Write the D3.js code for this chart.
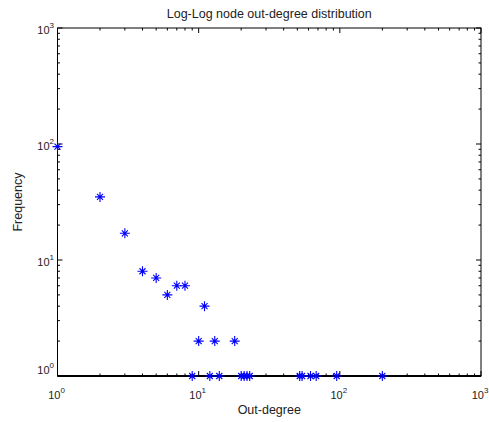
<!DOCTYPE html>
<html>
<head>
<meta charset="utf-8">
<script src="https://cdn.jsdelivr.net/npm/d3@7"></script>
<style>
  html, body { margin: 0; padding: 0; background: #fff; }
  svg { display: block; font-family: "Liberation Sans", Arial, sans-serif; }
</style>
</head>
<body>
<svg id="chart" width="489" height="422"></svg>
<script>
// out-degree values and how many nodes have each one
const outDegree = [1, 2, 3, 4, 5, 6, 7, 8, 9, 10, 11, 12, 13, 14, 18, 20, 21, 22, 23, 52, 54, 62, 68, 95, 200];
const frequency = [95, 35, 17, 8, 7, 5, 6, 6, 1, 2, 4, 1, 2, 1, 2, 1, 1, 1, 1, 1, 1, 1, 1, 1, 1];
const decadeTicks = [1, 10, 100, 1000];
const exponents = ["0", "1", "2", "3"];

const title = "Log-Log node out-degree distribution";
const xTitle = "Out-degree";
const yTitle = "Frequency";

(function () {
  const svg = d3.select("#chart");
  const left = 57.5, right = 481, plotTop = 28, plotBottom = 376;

  const x = d3.scaleLog().domain([1, 1000]).range([left, right]);
  const y = d3.scaleLog().domain([1, 1000]).range([plotBottom, plotTop]);

  // minor ticks 2..9 in each decade
  const minor = [];
  decadeTicks.slice(0, -1).forEach((d) => {
    for (let k = 2; k <= 9; k++) minor.push(d * k);
  });

  const tickG = svg.append("g").attr("stroke", "#000").attr("stroke-width", 1);
  function ticks(values, len) {
    values.forEach((v) => {
      const px = x(v), py = y(v);
      tickG.append("line").attr("x1", px).attr("x2", px).attr("y1", plotBottom).attr("y2", plotBottom - len);
      tickG.append("line").attr("x1", px).attr("x2", px).attr("y1", plotTop).attr("y2", plotTop + len);
      tickG.append("line").attr("y1", py).attr("y2", py).attr("x1", left).attr("x2", left + len);
      tickG.append("line").attr("y1", py).attr("y2", py).attr("x1", right).attr("x2", right - len);
    });
  }
  ticks(minor, 2.5);
  ticks(decadeTicks, 5);

  // box
  svg.append("rect")
    .attr("x", left).attr("y", plotTop)
    .attr("width", right - left).attr("height", plotBottom - plotTop)
    .attr("fill", "none").attr("stroke", "#000").attr("stroke-width", 1);
  svg.append("line")
    .attr("x1", left).attr("x2", right).attr("y1", plotBottom).attr("y2", plotBottom)
    .attr("stroke", "#000").attr("stroke-width", 2);

  // tick labels, 10 with a raised exponent
  const xLab = svg.append("g").attr("font-size", 11).attr("fill", "#222");
  decadeTicks.forEach((v, i) => {
    const t = xLab.append("text").attr("x", x(v) - 1).attr("y", 399).attr("text-anchor", "middle");
    t.append("tspan").text("10");
    t.append("tspan").attr("dy", -6).attr("font-size", 8).text(exponents[i]);
  });
  const yLab = svg.append("g").attr("font-size", 11).attr("fill", "#222");
  decadeTicks.forEach((v, i) => {
    const shift = i === 0 ? -8 : 0;
    const t = yLab.append("text").attr("x", 54).attr("y", y(v) + 6 + shift).attr("text-anchor", "end");
    t.append("tspan").text("10");
    t.append("tspan").attr("dy", -6).attr("font-size", 8).text(exponents[i]);
  });

  // asterisk markers
  const star = "M-5,0H5M0,-5V5M-3,-3L3,3M-3,3L3,-3";
  svg.append("g")
    .selectAll("path")
    .data(outDegree)
    .join("path")
    .attr("transform", (d, i) => `translate(${x(d)},${y(frequency[i])})`)
    .attr("d", star)
    .attr("fill", "none")
    .attr("stroke", "#0000ff")
    .attr("stroke-width", 1.1);

  // titles
  svg.append("text").attr("x", (left + right) / 2).attr("y", 18)
    .attr("text-anchor", "middle").attr("font-size", 12.5).attr("fill", "#222").text(title);
  svg.append("text").attr("x", (left + right) / 2).attr("y", 414)
    .attr("text-anchor", "middle").attr("font-size", 12.5).attr("fill", "#222").text(xTitle);
  svg.append("text")
    .attr("transform", `translate(22,${(plotTop + plotBottom) / 2}) rotate(-90)`)
    .attr("text-anchor", "middle").attr("font-size", 12.5).attr("fill", "#222").text(yTitle);
})();
</script>
</body>
</html>
